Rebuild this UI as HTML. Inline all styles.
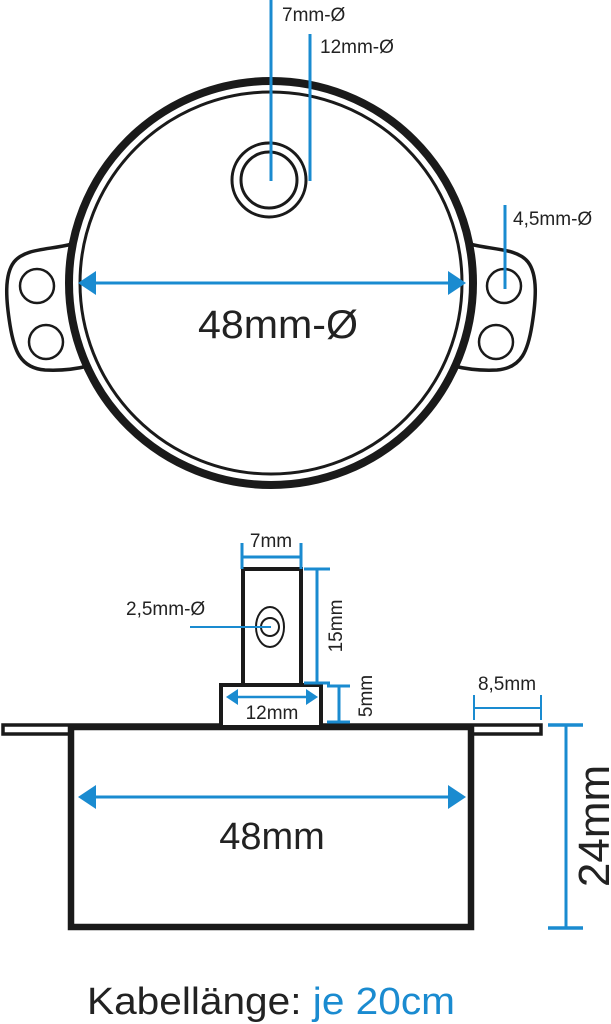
<!DOCTYPE html>
<html><head><meta charset="utf-8"><style>
html,body{margin:0;padding:0;background:#fff;width:611px;height:1024px;overflow:hidden}
svg{display:block}
text{font-family:"Liberation Sans",sans-serif;fill:#222}
</style></head><body>
<svg width="611" height="1024" viewBox="0 0 611 1024" xmlns="http://www.w3.org/2000/svg">
<g fill="none" stroke="#1a1a1a">
<path d="M72,244 C50,250 25,248 14,262 C4,275 6,300 10,325 C14,350 20,368 45,370 C65,371 80,368 88,366" stroke-width="3.5" fill="#fff"/>
<path d="M470,244 C492,250 517,248 528,262 C538,275 536,300 532,325 C528,350 522,368 497,370 C477,371 462,368 454,366" stroke-width="3.5" fill="#fff"/>
<circle cx="37" cy="286" r="17" stroke-width="2.5"/>
<circle cx="46" cy="342" r="17" stroke-width="2.5"/>
<circle cx="504" cy="286" r="17" stroke-width="2.5"/>
<circle cx="496" cy="342" r="17" stroke-width="2.5"/>
<circle cx="271" cy="283" r="202" stroke-width="8" fill="#fff"/>
<circle cx="271" cy="283" r="191" stroke-width="3"/>
<circle cx="269" cy="180" r="37" stroke-width="3"/>
<circle cx="269" cy="180" r="28" stroke-width="3"/>
<rect x="3" y="725" width="538" height="9" stroke-width="3.5"/>
<rect x="71" y="727" width="400" height="200" stroke-width="6.5" fill="#fff"/>
<rect x="221" y="685" width="100" height="42" stroke-width="4" fill="#fff"/>
<rect x="243" y="569" width="58" height="116" stroke-width="4" fill="#fff"/>
<ellipse cx="270" cy="627" rx="14" ry="20" stroke-width="2"/>
<circle cx="270" cy="627" r="9" stroke-width="2"/>
</g>
<g stroke="#1a8bd0" fill="none" stroke-width="3">
<line x1="271" y1="0" x2="271" y2="181"/>
<line x1="310" y1="34" x2="310" y2="181"/>
<line x1="505" y1="205" x2="505" y2="289"/>
<line x1="92" y1="283" x2="452" y2="283"/>
<line x1="92" y1="797" x2="452" y2="797"/>
<line x1="242" y1="557" x2="301" y2="557"/>
<line x1="242" y1="543" x2="242" y2="569"/>
<line x1="301" y1="543" x2="301" y2="569"/>
<line x1="317" y1="569" x2="317" y2="683"/>
<line x1="304" y1="569" x2="330" y2="569"/>
<line x1="304" y1="683" x2="330" y2="683"/>
<line x1="339" y1="686" x2="339" y2="722"/>
<line x1="327" y1="686" x2="350" y2="686"/>
<line x1="327" y1="722" x2="350" y2="722"/>
<line x1="236" y1="697" x2="308" y2="697" stroke-width="2.5"/>
<line x1="190" y1="627" x2="271" y2="627" stroke-width="2"/>
<line x1="474" y1="708" x2="541" y2="708" stroke-width="2"/>
<line x1="474" y1="695" x2="474" y2="720" stroke-width="2"/>
<line x1="541" y1="695" x2="541" y2="720" stroke-width="2"/>
<line x1="566" y1="725" x2="566" y2="928"/>
<line x1="548" y1="725" x2="583" y2="725" stroke-width="3.5"/>
<line x1="548" y1="928" x2="583" y2="928" stroke-width="3.5"/>
</g>
<g fill="#1a8bd0">
<polygon points="78,283 96,271 96,295"/>
<polygon points="466,283 448,271 448,295"/>
<polygon points="78,797 96,785 96,809"/>
<polygon points="466,797 448,785 448,809"/>
<polygon points="226,697 238,689 238,705"/>
<polygon points="318,697 306,689 306,705"/>
</g>
<text x="282" y="21" font-size="19">7mm-Ø</text>
<text x="320" y="53" font-size="19">12mm-Ø</text>
<text x="513" y="225" font-size="19">4,5mm-Ø</text>
<text x="198" y="338" font-size="40" textLength="160" lengthAdjust="spacingAndGlyphs">48mm-Ø</text>
<text x="271" y="547" font-size="19" text-anchor="middle">7mm</text>
<text x="126" y="615" font-size="19">2,5mm-Ø</text>
<text x="272" y="719" font-size="19" text-anchor="middle">12mm</text>
<text x="507" y="690" font-size="19" text-anchor="middle">8,5mm</text>
<text x="272" y="849" font-size="38" text-anchor="middle">48mm</text>
<text transform="translate(342,626) rotate(-90)" font-size="19" text-anchor="middle">15mm</text>
<text transform="translate(372,696) rotate(-90)" font-size="19" text-anchor="middle">5mm</text>
<text transform="translate(609,826) rotate(-90)" font-size="44" text-anchor="middle">24mm</text>
<text x="87" y="1014" font-size="38" textLength="368" lengthAdjust="spacingAndGlyphs">Kabellänge: <tspan fill="#1a8bd0">je 20cm</tspan></text>
</svg>
</body></html>
